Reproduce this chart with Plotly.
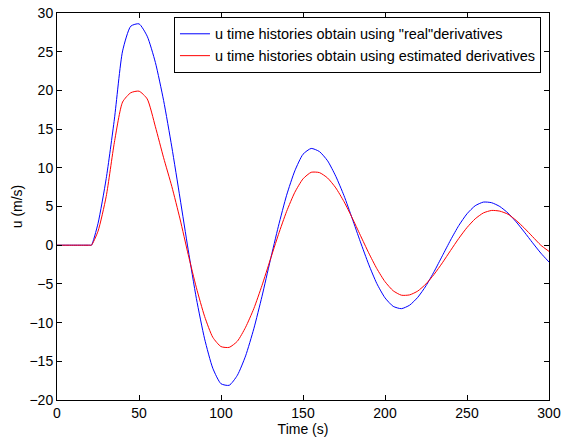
import plotly.graph_objects as go

time_s = [0, 5, 10, 15, 20, 21, 25, 30, 35, 40, 45, 50, 55, 60, 65, 70, 75, 80, 85, 90, 95, 100,
          105, 110, 115, 120, 125, 130, 135, 140, 145, 150, 155, 160, 165, 170, 175, 180,
          185, 190, 195, 200, 205, 210, 215, 220, 225, 230, 235, 240, 245, 250, 255, 260,
          265, 270, 275, 280, 285, 290, 295, 300]

u_real = [0, 0, 0, 0, 0, 0, 2.8, 8.6, 16.3, 25.1, 28.3, 28.6, 27.0, 23.6, 18.7, 12.7, 6.1, -0.6,
          -6.9, -12.1, -15.9, -17.9,
          -18.1, -16.8, -14.3, -10.8, -6.6, -2.0, 2.45, 6.45, 9.6, 11.75, 12.5, 12.1, 10.9, 8.9,
          6.4, 3.45, 0.43, -2.45, -4.95, -6.8, -7.9, -8.2, -7.75, -6.73, -5.24, -3.39, -1.36,
          0.67, 2.54, 4.06, 5.10, 5.57, 5.49, 5.0, 4.15, 3.01, 1.69, 0.31, -1.02, -2.17]

u_est = [0, 0, 0, 0, 0, 0, 1.8, 6.3, 13.3, 18.5, 19.7, 19.9, 18.9, 15.3, 11.3, 7.6, 3.4, -1.2,
         -5.5, -9.2, -11.9, -13.1,
         -13.2, -12.4, -10.6, -8.2, -5.2, -1.9, 1.37, 4.36, 6.83, 8.57, 9.42, 9.38, 8.68, 7.4,
         5.63, 3.53, 1.27, -0.97, -3.02, -4.71, -5.89, -6.46, -6.42, -5.92, -5.0, -3.75, -2.27,
         -0.68, 0.88, 2.28, 3.41, 4.17, 4.49, 4.4, 4.0, 3.2, 2.2, 1.1, 0.0, -0.8]

x_ticks = [0, 50, 100, 150, 200, 250, 300]
y_ticks = [-20, -15, -10, -5, 0, 5, 10, 15, 20, 25, 30]

names = ['u time histories obtain using "real"derivatives',
         'u time histories obtain using estimated derivatives']

FONT = "Liberation Sans, Arial"

fig = go.Figure()
fig.add_trace(go.Scatter(x=time_s, y=u_real, mode="lines", name=names[0],
                         line=dict(color="#0000ff", width=1, shape="spline", smoothing=0.6)))
fig.add_trace(go.Scatter(x=time_s, y=u_est, mode="lines", name=names[1],
                         line=dict(color="#ff0000", width=1, shape="spline", smoothing=0.6)))

axis_common = dict(showline=True, linecolor="black", linewidth=1, mirror="ticks",
                   ticks="inside", ticklen=5, tickcolor="black", tickwidth=1,
                   showgrid=False, zeroline=False, automargin=False,
                   tickfont=dict(family=FONT, size=14, color="black"))

fig.update_xaxes(range=[0, 300], tickvals=x_ticks, title=dict(text="Time (s)", standoff=0,
                 font=dict(family=FONT, size=14, color="black")), **axis_common)
fig.update_yaxes(range=[-20, 30], tickvals=y_ticks, title=dict(text="u (m/s)", standoff=3,
                 font=dict(family=FONT, size=14, color="black")), **axis_common)

fig.update_layout(
    width=568, height=443,
    margin=dict(l=57, r=19, t=13, b=43),
    plot_bgcolor="white", paper_bgcolor="white",
    legend=dict(x=0.9837, y=0.99, xanchor="right", yanchor="top",
                bgcolor="white", bordercolor="black", borderwidth=1,
                font=dict(family=FONT, size=14.5, color="black"),
                tracegroupgap=0, itemwidth=30),
    showlegend=True,
)

fig.write_html("out.html", config={"displayModeBar": False},
               post_script="document.body.style.margin='0';document.body.style.overflow='hidden';")
